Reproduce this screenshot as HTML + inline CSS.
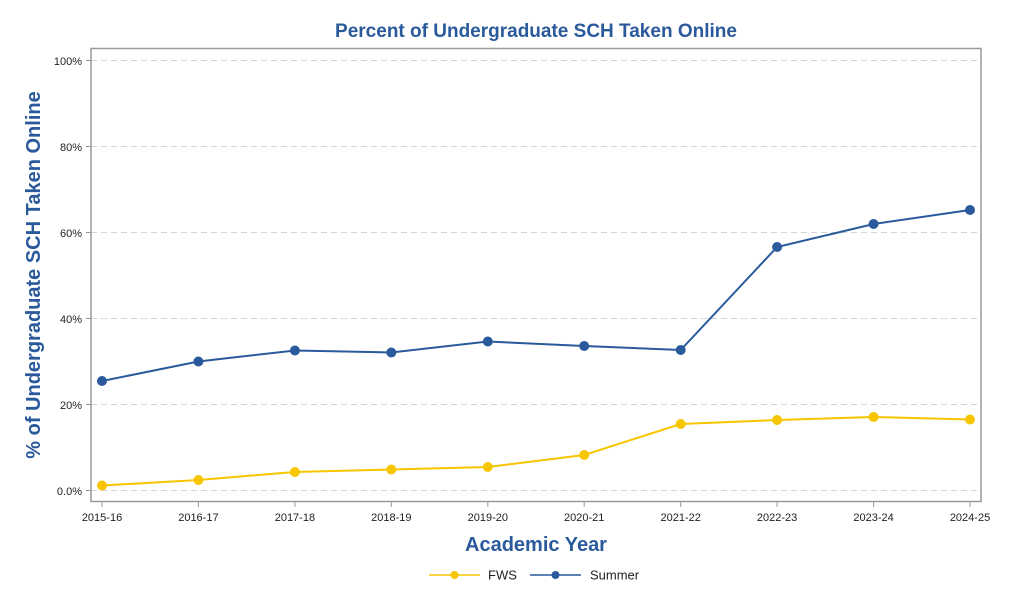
<!DOCTYPE html>
<html><head><meta charset="utf-8"><style>
html,body{margin:0;padding:0;background:#fff;}
svg{display:block;font-family:"Liberation Sans",Arial,sans-serif;}
</style></head><body>
<svg width="1030" height="596" viewBox="0 0 1030 596" xmlns="http://www.w3.org/2000/svg">
<text x="536" y="37" text-anchor="middle" font-size="19" font-weight="bold" fill="#2a5a9c">Percent of Undergraduate SCH Taken Online</text>
<g stroke="#d4d4d4" stroke-width="1" stroke-dasharray="6,4">
<line x1="91" y1="60.5" x2="981" y2="60.5"/>
<line x1="91" y1="146.5" x2="981" y2="146.5"/>
<line x1="91" y1="232.5" x2="981" y2="232.5"/>
<line x1="91" y1="318.5" x2="981" y2="318.5"/>
<line x1="91" y1="404.5" x2="981" y2="404.5"/>
<line x1="91" y1="490.5" x2="981" y2="490.5"/>
</g>
<rect x="91" y="48.5" width="890" height="453" fill="none" stroke="#999" stroke-width="1.5"/>
<g font-size="11" fill="#222" text-anchor="end">
<text x="82" y="65">100%</text>
<text x="82" y="151">80%</text>
<text x="82" y="237">60%</text>
<text x="82" y="323">40%</text>
<text x="82" y="409">20%</text>
<text x="82" y="495">0.0%</text>
</g>
<g stroke="#999" stroke-width="1">
<line x1="86" y1="60.5" x2="91" y2="60.5"/><line x1="86" y1="146.5" x2="91" y2="146.5"/><line x1="86" y1="232.5" x2="91" y2="232.5"/><line x1="86" y1="318.5" x2="91" y2="318.5"/><line x1="86" y1="404.5" x2="91" y2="404.5"/><line x1="86" y1="490.5" x2="91" y2="490.5"/>
<line x1="102" y1="502" x2="102" y2="507"/><line x1="198.4" y1="502" x2="198.4" y2="507"/><line x1="294.9" y1="502" x2="294.9" y2="507"/><line x1="391.3" y1="502" x2="391.3" y2="507"/><line x1="487.8" y1="502" x2="487.8" y2="507"/><line x1="584.2" y1="502" x2="584.2" y2="507"/><line x1="680.7" y1="502" x2="680.7" y2="507"/><line x1="777.1" y1="502" x2="777.1" y2="507"/><line x1="873.6" y1="502" x2="873.6" y2="507"/><line x1="970" y1="502" x2="970" y2="507"/>
</g>
<g font-size="11" fill="#222" text-anchor="middle">
<text x="102" y="521">2015-16</text><text x="198.4" y="521">2016-17</text><text x="294.9" y="521">2017-18</text><text x="391.3" y="521">2018-19</text><text x="487.8" y="521">2019-20</text><text x="584.2" y="521">2020-21</text><text x="680.7" y="521">2021-22</text><text x="777.1" y="521">2022-23</text><text x="873.6" y="521">2023-24</text><text x="970" y="521">2024-25</text>
</g>
<text x="536" y="551" text-anchor="middle" font-size="20" font-weight="bold" fill="#2a5a9c">Academic Year</text>
<text transform="translate(40,275) rotate(-90)" text-anchor="middle" font-size="20" font-weight="bold" fill="#2a5a9c">% of Undergraduate SCH Taken Online</text>
<polyline fill="none" stroke="#f7c600" stroke-width="2" points="102,485.5 198.4,480 294.9,472 391.3,469.5 487.8,467 584.2,455 680.7,424 777.1,420 873.6,417 970,419.5"/>
<g fill="#f7c600">
<circle cx="102" cy="485.5" r="5"/><circle cx="198.4" cy="480" r="5"/><circle cx="294.9" cy="472" r="5"/><circle cx="391.3" cy="469.5" r="5"/><circle cx="487.8" cy="467" r="5"/><circle cx="584.2" cy="455" r="5"/><circle cx="680.7" cy="424" r="5"/><circle cx="777.1" cy="420" r="5"/><circle cx="873.6" cy="417" r="5"/><circle cx="970" cy="419.5" r="5"/>
</g>
<polyline fill="none" stroke="#2a5a9c" stroke-width="2" points="102,381 198.4,361.5 294.9,350.5 391.3,352.5 487.8,341.5 584.2,346 680.7,350 777.1,247 873.6,224 970,210"/>
<g fill="#2a5a9c">
<circle cx="102" cy="381" r="5"/><circle cx="198.4" cy="361.5" r="5"/><circle cx="294.9" cy="350.5" r="5"/><circle cx="391.3" cy="352.5" r="5"/><circle cx="487.8" cy="341.5" r="5"/><circle cx="584.2" cy="346" r="5"/><circle cx="680.7" cy="350" r="5"/><circle cx="777.1" cy="247" r="5"/><circle cx="873.6" cy="224" r="5"/><circle cx="970" cy="210" r="5"/>
</g>
<line x1="429" y1="575" x2="480" y2="575" stroke="#f7c600" stroke-width="1.5"/>
<circle cx="454.5" cy="575" r="4" fill="#f7c600"/>
<text x="488" y="579.5" font-size="13" fill="#222">FWS</text>
<line x1="530" y1="575" x2="581" y2="575" stroke="#2a5a9c" stroke-width="1.5"/>
<circle cx="555.5" cy="575" r="4" fill="#2a5a9c"/>
<text x="590" y="579.5" font-size="13" fill="#222">Summer</text>
</svg>
</body></html>
